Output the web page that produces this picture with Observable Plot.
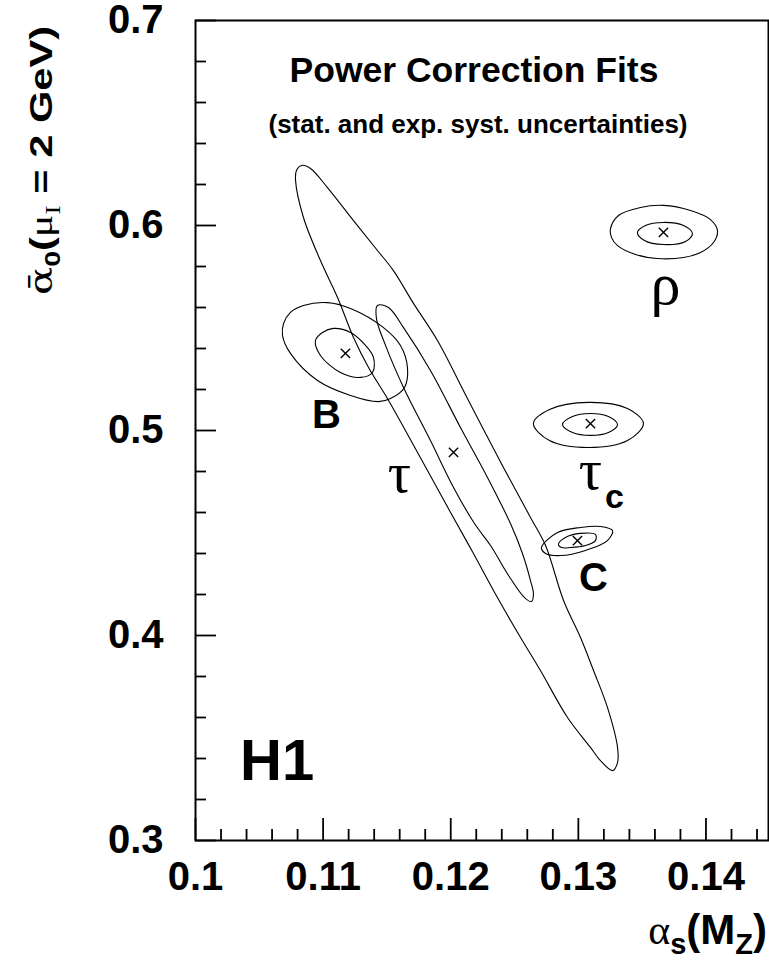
<!DOCTYPE html>
<html><head><meta charset="utf-8">
<script src="https://cdn.jsdelivr.net/npm/d3@7"></script>
<script src="https://cdn.jsdelivr.net/npm/@observablehq/plot@0.6"></script>
<style>html,body{margin:0;padding:0;background:#fff;overflow:hidden} svg{display:block}</style>
</head><body><div id="chart"></div>
<script>
// ---- axis ticks ----
const xMajorTicks = [0.10, 0.11, 0.12, 0.13, 0.14];
const xTickLabels = ["0.1", "0.11", "0.12", "0.13", "0.14"];
const xMinorTicks = [0.102,0.104,0.106,0.108,0.112,0.114,0.116,0.118,0.122,0.124,0.126,0.128,0.132,0.134,0.136,0.138,0.142,0.144];
const yMajorTicks = [0.3, 0.4, 0.5, 0.6, 0.7];
const yTickLabels = ["0.3", "0.4", "0.5", "0.6", "0.7"];
const yMinorTicks = [0.32,0.34,0.36,0.38,0.42,0.44,0.46,0.48,0.52,0.54,0.56,0.58,0.62,0.64,0.66,0.68];

// ---- contours [alpha_s(MZ), alpha0] ----
const tauOuter = [[0.10831,0.6293],[0.10901,0.6278],[0.11034,0.6185],[0.11238,0.6024],[0.11426,0.5878],[0.11551,0.5780],[0.11708,0.5620],[0.11896,0.5439],[0.12131,0.5156],[0.12413,0.4820],[0.12625,0.4576],[0.12743,0.4439],[0.12884,0.4171],[0.13017,0.3990],[0.13119,0.3829],[0.13228,0.3649],[0.13307,0.3454],[0.13307,0.3380],[0.13268,0.3341],[0.13173,0.3390],[0.13095,0.3454],[0.12915,0.3600],[0.12703,0.3829],[0.12547,0.3990],[0.12366,0.4185],[0.12178,0.4400],[0.11990,0.4610],[0.11818,0.4805],[0.11645,0.5000],[0.11504,0.5156],[0.11356,0.5307],[0.11238,0.5454],[0.11113,0.5649],[0.10979,0.5829],[0.10846,0.6039],[0.10784,0.6220],[0.10791,0.6268]];
const tauInner = [[0.11426,0.5610],[0.11512,0.5600],[0.11630,0.5502],[0.11841,0.5293],[0.12076,0.5015],[0.12288,0.4771],[0.12468,0.4546],[0.12562,0.4400],[0.12625,0.4268],[0.12648,0.4205],[0.12633,0.4166],[0.12578,0.4185],[0.12453,0.4293],[0.12312,0.4439],[0.12186,0.4546],[0.12022,0.4722],[0.11841,0.4951],[0.11630,0.5210],[0.11489,0.5415],[0.11418,0.5546]];
const bOuter = [[0.10690,0.5522],[0.10744,0.5576],[0.10846,0.5610],[0.11034,0.5624],[0.11215,0.5595],[0.11473,0.5502],[0.11606,0.5415],[0.11661,0.5307],[0.11638,0.5210],[0.11528,0.5156],[0.11434,0.5141],[0.11215,0.5171],[0.10956,0.5244],[0.10744,0.5376],[0.10682,0.5463]];
const bInner = [[0.10940,0.5439],[0.10995,0.5478],[0.11081,0.5498],[0.11215,0.5478],[0.11332,0.5415],[0.11395,0.5356],[0.11387,0.5283],[0.11293,0.5259],[0.11136,0.5283],[0.10979,0.5366]];
const rhoOuter = [[0.13252,0.5985],[0.13315,0.6049],[0.13487,0.6088],[0.13667,0.6098],[0.13879,0.6073],[0.14035,0.6029],[0.14090,0.5976],[0.14059,0.5917],[0.13957,0.5868],[0.13824,0.5844],[0.13620,0.5839],[0.13448,0.5859],[0.13307,0.5902],[0.13260,0.5941]];
const rhoInner = [[0.13463,0.5966],[0.13526,0.6000],[0.13667,0.6015],[0.13824,0.6000],[0.13894,0.5961],[0.13840,0.5922],[0.13667,0.5907],[0.13518,0.5927]];
const tauCOuter = [[0.12648,0.5034],[0.12774,0.5102],[0.13079,0.5137],[0.13385,0.5107],[0.13510,0.5034],[0.13385,0.4951],[0.13079,0.4917],[0.12774,0.4951]];
const tauCInner = [[0.12876,0.5029],[0.12954,0.5068],[0.13095,0.5083],[0.13236,0.5068],[0.13307,0.5029],[0.13236,0.4990],[0.13095,0.4976],[0.12954,0.4990]];
const cOuter = [[0.12711,0.4429],[0.12837,0.4502],[0.13017,0.4527],[0.13173,0.4532],[0.13268,0.4512],[0.13228,0.4463],[0.13056,0.4415],[0.12860,0.4390],[0.12743,0.4400]];
const cInner = [[0.12844,0.4444],[0.12899,0.4478],[0.13017,0.4498],[0.13134,0.4493],[0.13134,0.4463],[0.13056,0.4439],[0.12938,0.4429],[0.12868,0.4429]];

// ---- best-fit points ----
const fitNames = ["B", "tau", "rho", "tauC", "C"];
const fitAlphaS = [0.11175, 0.12022, 0.13667, 0.13095, 0.12993];
const fitAlpha0 = [0.5376, 0.4893, 0.5966, 0.5034, 0.4463];

// ---- in-plot labels (baseline positions) ----
const sansLabels = [
  {text: "B", x: 0.11026, y: 0.5010, size: 40},
  {text: "C", x: 0.13119, y: 0.4215, size: 40},
  {text: "c", x: 0.13283, y: 0.4624, size: 34},
  {text: "H1", x: 0.1064, y: 0.3293, size: 58}
];
const greekLabels = [
  {text: "τ", x: 0.11598, y: 0.4698, size: 58},
  {text: "τ", x: 0.13095, y: 0.4717, size: 58},
  {text: "ρ", x: 0.13683, y: 0.5615, size: 60}
];

const contours = [
  ["tauOuter", tauOuter], ["tauInner", tauInner], ["bOuter", bOuter], ["bInner", bInner],
  ["rhoOuter", rhoOuter], ["rhoInner", rhoInner], ["tauCOuter", tauCOuter], ["tauCInner", tauCInner],
  ["cOuter", cOuter], ["cInner", cInner]
].flatMap(([id, pts]) => pts.map(([x, y]) => ({id, x, y})));
const fits = fitNames.map((n, i) => ({name: n, x: fitAlphaS[i], y: fitAlpha0[i]}));
const xTickTable = xMajorTicks.map((v, i) => ({v, label: xTickLabels[i]}));
const yTickTable = yMajorTicks.map((v, i) => ({v, label: yTickLabels[i]}));

const W = 769, H = 962, mL = 195, mR = 1, mT = 20, mB = 122;
const innerW = W - mL - mR, innerH = H - mT - mB;
const SANS = "Liberation Sans, Arial, Helvetica, sans-serif";
const SERIF = "Liberation Serif, DejaVu Serif, serif";

const plot = Plot.plot({
  width: W, height: H,
  marginLeft: mL, marginRight: mR, marginTop: mT, marginBottom: mB,
  x: {domain: [0.1, 0.1449], axis: null},
  y: {domain: [0.3, 0.7], axis: null},
  style: {fontFamily: SANS, background: "white", color: "black"},
  marks: [
    Plot.line(contours, {x: "x", y: "y", z: "id", curve: "catmull-rom-closed", stroke: "black", strokeWidth: 1.1}),
    Plot.dot(fits, {x: "x", y: "y", symbol: "times", r: 4.3, stroke: "black", strokeWidth: 1.4}),
    Plot.tickX(xMajorTicks, {x: d => d, insetTop: innerH - 22, stroke: "black", strokeWidth: 1.8}),
    Plot.tickX(xMinorTicks, {x: d => d, insetTop: innerH - 11, stroke: "black", strokeWidth: 1.8}),
    Plot.tickY(yMajorTicks, {y: d => d, insetRight: innerW - 21, stroke: "black", strokeWidth: 1.8}),
    Plot.tickY(yMinorTicks, {y: d => d, insetRight: innerW - 11, stroke: "black", strokeWidth: 1.8}),
    Plot.frame({stroke: "black", strokeWidth: 2}),
    Plot.text(xTickTable, {x: "v", text: "label", frameAnchor: "bottom", dy: 37, lineAnchor: "middle", fontSize: 40, fontWeight: "bold", fill: "black"}),
    Plot.text(yTickTable, {y: "v", text: "label", frameAnchor: "left", dx: -32, textAnchor: "end", lineAnchor: "middle", fontSize: 40, fontWeight: "bold", fill: "black"}),
    Plot.text(sansLabels, {x: "x", y: "y", text: "text", fontSize: d => d.size, lineAnchor: "bottom", fontWeight: "bold", fill: "black"}),
    Plot.text(greekLabels, {x: "x", y: "y", text: "text", fontSize: d => d.size, lineAnchor: "bottom", fontFamily: SERIF, fill: "black"}),
    Plot.text(["Power Correction Fits"], {frameAnchor: "top", dx: -8, dy: 61, lineAnchor: "bottom", fontSize: 35.5, fontWeight: "bold", fill: "black"}),
    Plot.text(["(stat. and exp. syst. uncertainties)"], {frameAnchor: "top", dx: -4, dy: 112, lineAnchor: "bottom", fontSize: 26, fontWeight: "bold", fill: "black"})
  ]
});
document.getElementById("chart").appendChild(plot);

// ---- axis titles with sub-scripts ----
const svg = d3.select(plot);
const xt = svg.append("text").attr("x", 767).attr("y", 944).attr("text-anchor", "end")
  .attr("font-family", SANS).attr("font-weight", "bold").attr("font-size", 42).attr("fill", "black");
xt.append("tspan").attr("font-family", SERIF).attr("font-weight", "normal").text("α");
xt.append("tspan").attr("font-size", 29).attr("dy", 10).text("s");
xt.append("tspan").attr("dy", -10).text("(M");
xt.append("tspan").attr("font-size", 29).attr("dy", 10).text("Z");
xt.append("tspan").attr("dy", -10).text(")");

const yt = svg.append("text").attr("transform", "translate(52,26) rotate(-90) scale(1.3,1)").attr("text-anchor", "end")
  .attr("font-family", SANS).attr("font-weight", "bold").attr("font-size", 32).attr("fill", "black");
yt.append("tspan").attr("font-family", "DejaVu Serif, serif").attr("font-weight", "normal").text("ᾱ");
yt.append("tspan").attr("font-size", 22).attr("dy", 8).text("0");
yt.append("tspan").attr("dy", -8).text("(");
yt.append("tspan").attr("font-family", SERIF).attr("font-weight", "normal").text("μ");
yt.append("tspan").attr("font-family", SERIF).attr("font-weight", "normal").attr("font-size", 22).attr("dy", 8).text("I");
yt.append("tspan").attr("dy", -8).text(" = 2 GeV)");
</script>
</body></html>
